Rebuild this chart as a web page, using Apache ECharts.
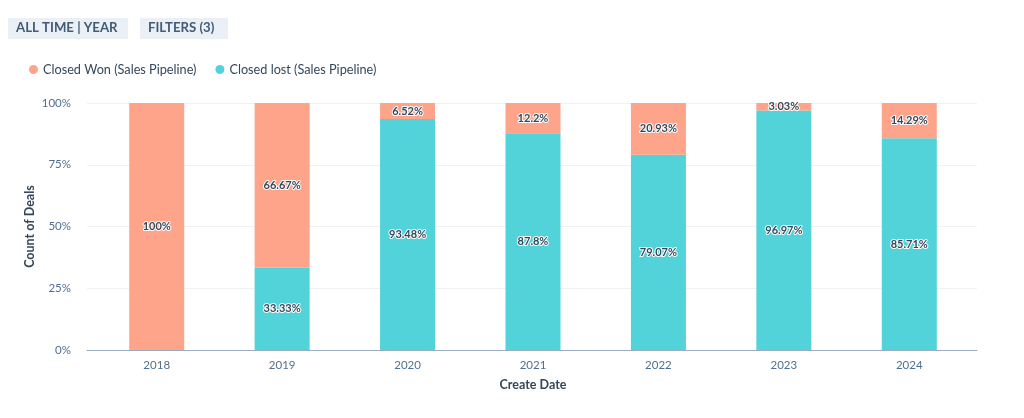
<!DOCTYPE html>
<html><head><meta charset="utf-8">
<script src="https://cdn.jsdelivr.net/npm/echarts@6/dist/echarts.min.js"></script>
<style>html,body{margin:0;padding:0;background:#fff}#c{width:1024px;height:418px}</style>
</head><body><div id="c"></div>
<script>
const categories = ['2018','2019','2020','2021','2022','2023','2024'];
const closedWon = [100, 66.67, 6.52, 12.2, 20.93, 3.03, 14.29];
const closedLost = [null, 33.33, 93.48, 87.8, 79.07, 96.97, 85.71];
const yTicks = [0, 25, 50, 75, 100];
const wonName = 'Closed Won (Sales Pipeline)';
const lostName = 'Closed lost (Sales Pipeline)';
const FONT = 'Lato, "Open Sans", sans-serif';

const chart = echarts.init(document.getElementById('c'));
const labelStyle = {
  show: true, position: 'inside', color: '#33475b', fontSize: 11, fontWeight: 'bold',
  fontFamily: FONT, textBorderColor: '#fff', textBorderWidth: 2,
  formatter: p => p.value + '%'
};
chart.setOption({
  animation: false,
  textStyle: { fontFamily: FONT },
  graphic: [
    { type: 'rect', left: 8, top: 18, shape: { width: 120, height: 21 }, style: { fill: '#eaf0f6' } },
    { type: 'text', left: 16, top: 21, style: { text: 'ALL TIME | YEAR', fill: '#425b76', font: 'bold 13.2px ' + FONT } },
    { type: 'rect', left: 140, top: 18, shape: { width: 88, height: 21 }, style: { fill: '#eaf0f6' } },
    { type: 'text', left: 148, top: 21, style: { text: 'FILTERS (3)', fill: '#425b76', font: 'bold 13.2px ' + FONT } }
  ],
  legend: {
    left: 24, top: 58, icon: 'circle', itemWidth: 9, itemHeight: 9, itemGap: 19,
    textStyle: { color: '#33475b', fontSize: 12.7, fontFamily: FONT },
    data: [wonName, lostName]
  },
  color: ['#fda48b', '#51d3d9'],
  grid: [
    { left: 94, right: 52, top: 103, bottom: 68 },
    { left: 87, right: 47, top: 103, bottom: 68 }
  ],
  xAxis: [
    {
      type: 'category', data: categories, gridIndex: 0,
      name: 'Create Date', nameLocation: 'middle', nameGap: 28,
      nameTextStyle: { color: '#33475b', fontWeight: 'bold', fontSize: 12.5 },
      axisLine: { show: false },
      axisTick: { show: false },
      axisLabel: { color: '#516f90', fontSize: 11.5, margin: 9 }
    },
    {
      type: 'value', gridIndex: 1, min: 0, max: 1,
      axisLine: { show: true, onZero: false, lineStyle: { color: '#99acc2' } },
      axisTick: { show: false }, axisLabel: { show: false }, splitLine: { show: false }
    }
  ],
  yAxis: [
    {
      type: 'value', gridIndex: 0, min: 0, max: 100, interval: 25,
      axisLine: { show: false }, axisTick: { show: false },
      axisLabel: { show: false }, splitLine: { show: false }
    },
    {
      type: 'value', gridIndex: 1, min: 0, max: 100, interval: 25,
      name: 'Count of Deals', nameLocation: 'middle', nameGap: 51, nameMoveOverlap: false,
      nameTextStyle: { color: '#33475b', fontWeight: 'bold', fontSize: 12.5 },
      axisLine: { show: false }, axisTick: { show: false },
      axisLabel: { color: '#516f90', fontSize: 11.5, margin: 16, formatter: v => yTicks.includes(v) ? v + '%' : '' },
      splitLine: { lineStyle: { color: '#eff2f5' } }
    }
  ],
  series: [
    { name: lostName, type: 'bar', stack: 'a', barWidth: 55, xAxisIndex: 0, yAxisIndex: 0, data: closedLost, label: labelStyle, itemStyle: { color: '#51d3d9' }, z: 3 },
    { name: wonName, type: 'bar', stack: 'a', barWidth: 55, xAxisIndex: 0, yAxisIndex: 0, data: closedWon, label: labelStyle, itemStyle: { color: '#fda48b' }, z: 3 }
  ]
});
</script></body></html>
